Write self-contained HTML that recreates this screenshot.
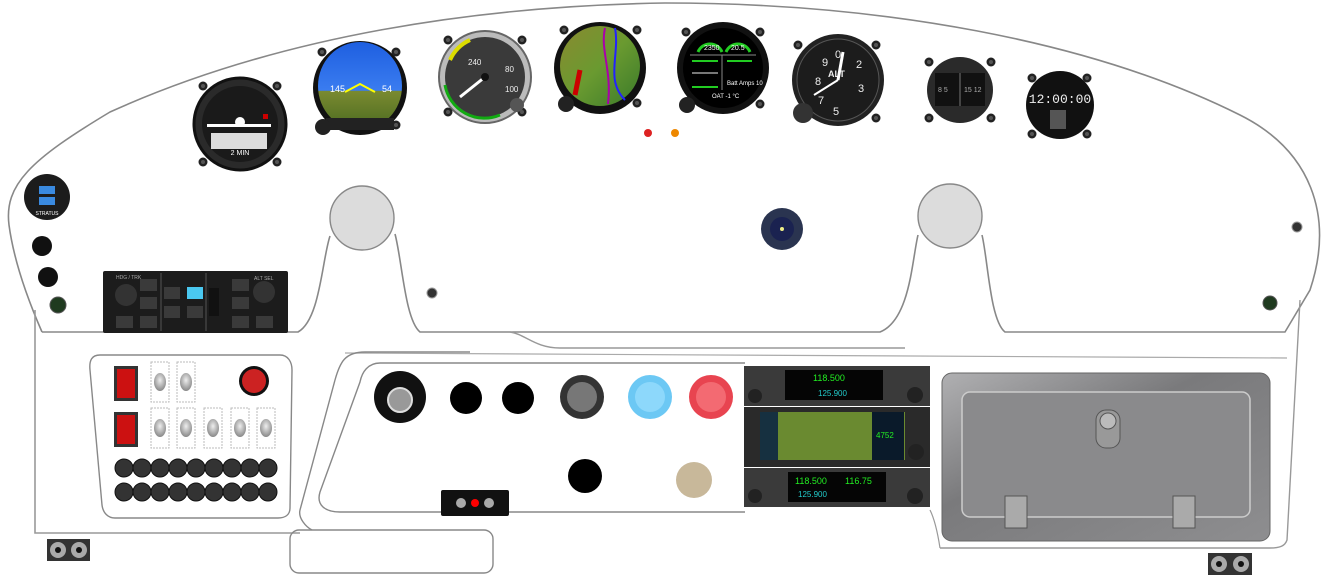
<!DOCTYPE html>
<html><head><meta charset="utf-8"><style>
html,body{margin:0;padding:0;background:#fff;width:1330px;height:575px;overflow:hidden}
svg{display:block;font-family:"Liberation Sans",sans-serif}
</style></head><body>
<svg width="1330" height="575" viewBox="0 0 1330 575" xmlns="http://www.w3.org/2000/svg">
<defs>
<radialGradient id="gs" cx="50%" cy="40%" r="60%"><stop offset="0" stop-color="#eee"/><stop offset="1" stop-color="#888"/></radialGradient>
<linearGradient id="glove" x1="0" y1="0" x2="1" y2="1"><stop offset="0" stop-color="#b0b0b2"/><stop offset=".4" stop-color="#7a7a7c"/><stop offset="1" stop-color="#8e8e90"/></linearGradient>
<linearGradient id="pfd" x1="0" y1="0" x2="0" y2="1"><stop offset="0" stop-color="#1e5fe0"/><stop offset=".55" stop-color="#3a7cf0"/><stop offset=".56" stop-color="#7a8a30"/><stop offset="1" stop-color="#4a6a20"/></linearGradient>
<linearGradient id="map" x1="0" y1="0" x2="1" y2="1"><stop offset="0" stop-color="#8a8a30"/><stop offset=".5" stop-color="#6a9a30"/><stop offset="1" stop-color="#3a7a2a"/></linearGradient>
<g id="scr"><circle r="4.5" fill="#222"/><circle r="2" fill="#555"/></g>
</defs>

<path d="M42,332 C28,300 14,262 9,225 C4,185 30,160 110,112 C280,35 480,6 665,3 C880,3 1090,40 1240,115 C1310,150 1335,215 1310,290 L1285,332 L1005,332 C990,320 988,260 982,235 M918,235 C912,260 910,320 880,332 L420,332 C405,320 402,260 395,234 M330,236 C322,260 320,320 298,332 L42,332" fill="none" stroke="#888" stroke-width="1.6"/>
<path d="M510,332 C525,334 535,348 560,348 L905,348" fill="none" stroke="#999" stroke-width="1.4"/>
<circle cx="362" cy="218" r="32" fill="#dcdcdc" stroke="#888" stroke-width="1.4"/>
<circle cx="950" cy="216" r="32" fill="#dcdcdc" stroke="#888" stroke-width="1.4"/>

<path d="M35,310 L35,533 L300,533" fill="none" stroke="#999" stroke-width="1.6"/>
<path d="M1300,300 L1287,540 C1285,546 1280,548 1270,548 L940,548" fill="none" stroke="#999" stroke-width="1.4"/>
<path d="M345,353 L1287,358" fill="none" stroke="#aaa" stroke-width="1.2"/>
<path d="M470,352 L365,352 C345,352 340,362 335,380 L300,510 C298,518 306,527 312,530" fill="none" stroke="#888" stroke-width="1.4"/>
<path d="M745,363 L380,363 C368,363 362,372 360,382 L320,492 C316,505 325,512 340,512 L745,512" fill="none" stroke="#888" stroke-width="1.4"/>
<path d="M930,510 C935,520 938,535 940,548" fill="none" stroke="#999" stroke-width="1.2"/>
<rect x="290" y="530" width="203" height="43" rx="9" fill="none" stroke="#888" stroke-width="1.4"/>

<path d="M100,355 L280,355 C288,355 292,362 292,370 L290,508 C290,515 285,518 278,518 L115,518 C108,518 103,513 102,505 L90,370 C89,360 92,355 100,355 Z" fill="#fff" stroke="#888" stroke-width="1.4"/>

<circle cx="240" cy="124" r="46" fill="#2a2a2a" stroke="#111" stroke-width="3"/>
<circle cx="240" cy="124" r="38" fill="#1a1a1a"/>
<rect x="211" y="133" width="56" height="16" fill="#ddd"/>
<rect x="207" y="124" width="64" height="3" fill="#fff"/>
<circle cx="240" cy="122" r="5" fill="#fff"/>
<rect x="263" y="114" width="5" height="5" fill="#c00"/>
<text x="240" y="155" fill="#fff" font-size="7" text-anchor="middle">2 MIN</text>
<use href="#scr" x="203" y="86"/><use href="#scr" x="277" y="86"/><use href="#scr" x="203" y="162"/><use href="#scr" x="277" y="162"/>

<circle cx="360" cy="88" r="47" fill="#111"/>
<ellipse cx="360" cy="86" rx="42" ry="44" fill="url(#pfd)"/>
<rect x="326" y="118" width="68" height="12" fill="#222"/>
<text x="330" y="92" fill="#fff" font-size="9">145</text><text x="382" y="92" fill="#fff" font-size="9">54</text>
<path d="M345,92 L360,84 L375,92" stroke="#ff0" stroke-width="2" fill="none"/>
<use href="#scr" x="322" y="52"/><use href="#scr" x="396" y="52"/><use href="#scr" x="396" y="125"/>
<circle cx="323" cy="127" r="8" fill="#222"/>

<circle cx="485" cy="77" r="46" fill="#bbb" stroke="#666" stroke-width="2"/>
<circle cx="485" cy="77" r="40" fill="#3a3a3a"/>
<path d="M450,60 A40,40 0 0 1 470,40" stroke="#dd0" stroke-width="4" fill="none"/>
<path d="M445,85 A40,40 0 0 0 500,115" stroke="#1a1" stroke-width="3" fill="none"/>
<line x1="485" y1="77" x2="460" y2="97" stroke="#fff" stroke-width="3"/>
<circle cx="485" cy="77" r="4" fill="#111"/>
<text x="468" y="65" fill="#eee" font-size="8">240</text><text x="505" y="72" fill="#eee" font-size="8">80</text><text x="505" y="92" fill="#eee" font-size="8">100</text>
<use href="#scr" x="448" y="40"/><use href="#scr" x="522" y="40"/><use href="#scr" x="448" y="112"/><use href="#scr" x="522" y="112"/>
<circle cx="517" cy="105" r="7" fill="#555"/>

<circle cx="600" cy="68" r="46" fill="#111"/>
<ellipse cx="600" cy="66" rx="40" ry="40" fill="url(#map)"/>
<path d="M605,28 C600,50 612,70 608,104" stroke="#a0a" stroke-width="2" fill="none"/>
<path d="M615,28 C620,55 605,80 625,100" stroke="#22f" stroke-width="2" fill="none"/>
<path d="M580,70 L575,95" stroke="#c00" stroke-width="5"/>
<use href="#scr" x="564" y="30"/><use href="#scr" x="637" y="30"/><use href="#scr" x="637" y="103"/>
<circle cx="566" cy="104" r="8" fill="#222"/>

<circle cx="723" cy="68" r="46" fill="#111"/>
<circle cx="723" cy="68" r="40" fill="#000"/>
<path d="M698,52 A13,13 0 0 1 722,52" stroke="#2c2" stroke-width="3" fill="none"/>
<path d="M726,52 A13,13 0 0 1 750,52" stroke="#2c2" stroke-width="3" fill="none"/>
<text x="704" y="50" fill="#fff" font-size="7">2350</text><text x="731" y="50" fill="#fff" font-size="7">20.5</text>
<line x1="690" y1="55" x2="756" y2="55" stroke="#888"/>
<line x1="722" y1="55" x2="722" y2="90" stroke="#888"/>
<line x1="692" y1="61" x2="718" y2="61" stroke="#2c2" stroke-width="2"/><line x1="727" y1="61" x2="752" y2="61" stroke="#2c2" stroke-width="2"/>
<line x1="692" y1="73" x2="718" y2="73" stroke="#eee"/><line x1="692" y1="87" x2="718" y2="87" stroke="#2c2" stroke-width="2"/>
<text x="727" y="85" fill="#fff" font-size="6">Batt Amps 10</text>
<text x="712" y="98" fill="#fff" font-size="6">OAT -1 °C</text>
<use href="#scr" x="686" y="32"/><use href="#scr" x="760" y="32"/><use href="#scr" x="760" y="104"/>
<circle cx="687" cy="105" r="8" fill="#222"/>

<circle cx="838" cy="80" r="46" fill="#222"/>
<circle cx="838" cy="80" r="41" fill="#1c1c1c" stroke="#555"/>
<text x="822" y="66" fill="#eee" font-size="11">9</text><text x="815" y="85" fill="#eee" font-size="11">8</text><text x="818" y="104" fill="#eee" font-size="11">7</text><text x="833" y="115" fill="#eee" font-size="11">5</text><text x="856" y="68" fill="#eee" font-size="11">2</text><text x="858" y="92" fill="#eee" font-size="11">3</text><text x="835" y="58" fill="#eee" font-size="11">0</text>
<text x="828" y="77" fill="#eee" font-size="9" font-weight="bold">ALT</text>
<line x1="838" y1="80" x2="843" y2="52" stroke="#fff" stroke-width="3"/>
<line x1="838" y1="80" x2="814" y2="95" stroke="#fff" stroke-width="2"/>
<use href="#scr" x="798" y="45"/><use href="#scr" x="876" y="45"/><use href="#scr" x="876" y="118"/>
<circle cx="803" cy="113" r="10" fill="#333"/>

<circle cx="960" cy="90" r="33" fill="#2a2a2a"/>
<rect x="935" y="73" width="50" height="33" fill="#111"/>
<line x1="960" y1="73" x2="960" y2="106" stroke="#777"/>
<text x="938" y="92" fill="#aaa" font-size="7">8  5</text><text x="964" y="92" fill="#aaa" font-size="7">15 12</text>
<use href="#scr" x="929" y="62"/><use href="#scr" x="991" y="62"/><use href="#scr" x="929" y="118"/><use href="#scr" x="991" y="118"/>

<circle cx="1060" cy="105" r="34" fill="#111"/>
<text x="1060" y="103" fill="#eee" font-size="13" text-anchor="middle" font-family="Liberation Mono,monospace">12:00:00</text>
<rect x="1050" y="110" width="16" height="19" fill="#555"/>
<use href="#scr" x="1032" y="78"/><use href="#scr" x="1087" y="78"/><use href="#scr" x="1032" y="134"/><use href="#scr" x="1087" y="134"/>

<circle cx="648" cy="133" r="4" fill="#d22"/><circle cx="675" cy="133" r="4" fill="#e80"/>

<circle cx="47" cy="197" r="23" fill="#1c1c1c"/>
<rect x="39" y="186" width="16" height="8" fill="#3a8ae0"/><rect x="39" y="197" width="16" height="8" fill="#3a8ae0"/>
<text x="47" y="215" fill="#fff" font-size="5" text-anchor="middle">STRATUS</text>
<circle cx="42" cy="246" r="10" fill="#111"/><circle cx="48" cy="277" r="10" fill="#111"/>
<circle cx="58" cy="305" r="8" fill="#1f3a1f" stroke="#555"/>

<rect x="103" y="271" width="185" height="62" rx="2" fill="#1c1c1c"/>
<circle cx="126" cy="295" r="11" fill="#333"/><circle cx="264" cy="292" r="11" fill="#333"/>
<g fill="#3a3a3a"><rect x="140" y="279" width="17" height="12"/><rect x="140" y="297" width="17" height="12"/><rect x="140" y="316" width="17" height="12"/><rect x="116" y="316" width="17" height="12"/><rect x="164" y="287" width="16" height="12"/><rect x="164" y="306" width="16" height="12"/><rect x="187" y="306" width="16" height="12"/><rect x="232" y="279" width="17" height="12"/><rect x="232" y="297" width="17" height="12"/><rect x="232" y="316" width="17" height="12"/><rect x="256" y="316" width="17" height="12"/></g>
<rect x="187" y="287" width="16" height="12" fill="#4ac8f0"/>
<rect x="209" y="288" width="10" height="28" fill="#111"/>
<line x1="161" y1="273" x2="161" y2="331" stroke="#555"/><line x1="206" y1="273" x2="206" y2="331" stroke="#555"/>
<text x="254" y="280" fill="#aaa" font-size="5">ALT SEL</text><text x="116" y="279" fill="#aaa" font-size="5">HDG / TRK</text>

<circle cx="432" cy="293" r="5" fill="#333" stroke="#999"/>
<circle cx="1297" cy="227" r="5" fill="#333" stroke="#999"/>
<circle cx="1270" cy="303" r="7" fill="#1f3a1f" stroke="#555"/>
<circle cx="782" cy="229" r="21" fill="#2a3450"/><circle cx="782" cy="229" r="12" fill="#1a2250"/><circle cx="782" cy="229" r="2" fill="#ee8"/>

<rect x="114" y="366" width="24" height="35" fill="#333"/><rect x="117" y="369" width="18" height="29" fill="#c11"/>
<rect x="114" y="412" width="24" height="35" fill="#333"/><rect x="117" y="415" width="18" height="29" fill="#c11"/>
<g fill="none" stroke="#bbb" stroke-dasharray="2,1">
<rect x="151" y="362" width="18" height="40"/><rect x="177" y="362" width="18" height="40"/>
<rect x="151" y="408" width="18" height="40"/><rect x="177" y="408" width="18" height="40"/><rect x="204" y="408" width="18" height="40"/><rect x="231" y="408" width="18" height="40"/><rect x="257" y="408" width="18" height="40"/>
</g>
<g fill="url(#gs)">
<ellipse cx="160" cy="382" rx="6" ry="9"/><ellipse cx="186" cy="382" rx="6" ry="9"/>
<ellipse cx="160" cy="428" rx="6" ry="9"/><ellipse cx="186" cy="428" rx="6" ry="9"/><ellipse cx="213" cy="428" rx="6" ry="9"/><ellipse cx="240" cy="428" rx="6" ry="9"/><ellipse cx="266" cy="428" rx="6" ry="9"/>
</g>
<circle cx="254" cy="381" r="15" fill="#111"/><circle cx="254" cy="381" r="12" fill="#c22"/>
<g fill="#333" stroke="#111">
<circle cx="124" cy="468" r="9"/><circle cx="142" cy="468" r="9"/><circle cx="160" cy="468" r="9"/><circle cx="178" cy="468" r="9"/><circle cx="196" cy="468" r="9"/><circle cx="214" cy="468" r="9"/><circle cx="232" cy="468" r="9"/><circle cx="250" cy="468" r="9"/><circle cx="268" cy="468" r="9"/>
<circle cx="124" cy="492" r="9"/><circle cx="142" cy="492" r="9"/><circle cx="160" cy="492" r="9"/><circle cx="178" cy="492" r="9"/><circle cx="196" cy="492" r="9"/><circle cx="214" cy="492" r="9"/><circle cx="232" cy="492" r="9"/><circle cx="250" cy="492" r="9"/><circle cx="268" cy="492" r="9"/>
</g>

<circle cx="400" cy="397" r="26" fill="#111"/><circle cx="400" cy="400" r="12" fill="#999" stroke="#ddd" stroke-width="2"/>
<circle cx="466" cy="398" r="16" fill="#000"/><circle cx="518" cy="398" r="16" fill="#000"/>
<circle cx="582" cy="397" r="22" fill="#333"/><circle cx="582" cy="397" r="15" fill="#777"/>
<circle cx="650" cy="397" r="22" fill="#6cc8f4"/><circle cx="650" cy="397" r="15" fill="#8dd8fb"/>
<circle cx="711" cy="397" r="22" fill="#e84450"/><circle cx="711" cy="397" r="15" fill="#f36a72"/>
<circle cx="585" cy="476" r="17" fill="#000"/>
<circle cx="694" cy="480" r="18" fill="#c8b89a"/>
<rect x="441" y="490" width="68" height="26" rx="2" fill="#111"/>
<circle cx="475" cy="503" r="4" fill="#f00"/><circle cx="461" cy="503" r="5" fill="#aaa"/><circle cx="489" cy="503" r="5" fill="#aaa"/>

<rect x="744" y="366" width="186" height="40" fill="#3a3a3a"/>
<rect x="785" y="370" width="98" height="30" fill="#050505"/><text x="813" y="381" fill="#2e2" font-size="9">118.500</text><text x="818" y="396" fill="#2cc" font-size="8">125.900</text>
<circle cx="915" cy="395" r="8" fill="#222"/><circle cx="755" cy="396" r="7" fill="#222"/>
<rect x="744" y="407" width="186" height="60" fill="#2a2a2a"/>
<rect x="760" y="412" width="145" height="48" fill="#6a8a30"/>
<rect x="760" y="412" width="18" height="48" fill="#163040"/><rect x="872" y="412" width="32" height="48" fill="#0a1a2a"/>
<text x="876" y="438" fill="#2e2" font-size="8">4752</text>
<circle cx="916" cy="452" r="8" fill="#222"/>
<rect x="744" y="468" width="186" height="39" fill="#3a3a3a"/>
<rect x="788" y="472" width="98" height="30" fill="#050505"/><text x="795" y="484" fill="#2e2" font-size="9">118.500</text><text x="845" y="484" fill="#2e2" font-size="9">116.75</text><text x="798" y="497" fill="#2cc" font-size="8">125.900</text>
<circle cx="915" cy="496" r="8" fill="#222"/><circle cx="755" cy="496" r="7" fill="#222"/>

<rect x="942" y="373" width="328" height="168" rx="10" fill="url(#glove)" stroke="#666"/>
<rect x="962" y="392" width="288" height="125" rx="8" fill="#8a8a8c" stroke="#ccc" stroke-width="1.5"/>
<rect x="1096" y="410" width="24" height="38" rx="10" fill="#999" stroke="#555"/>
<circle cx="1108" cy="421" r="8" fill="#bbb" stroke="#555"/>
<rect x="1005" y="496" width="22" height="32" fill="#aaa" stroke="#555"/>
<rect x="1173" y="496" width="22" height="32" fill="#aaa" stroke="#555"/>

<rect x="47" y="539" width="43" height="22" fill="#333"/><circle cx="58" cy="550" r="8" fill="#aaa"/><circle cx="79" cy="550" r="8" fill="#aaa"/><circle cx="58" cy="550" r="3" fill="#111"/><circle cx="79" cy="550" r="3" fill="#111"/>
<rect x="1208" y="553" width="44" height="22" fill="#333"/><circle cx="1219" cy="564" r="8" fill="#aaa"/><circle cx="1241" cy="564" r="8" fill="#aaa"/><circle cx="1219" cy="564" r="3" fill="#111"/><circle cx="1241" cy="564" r="3" fill="#111"/>
</svg>
</body></html>
